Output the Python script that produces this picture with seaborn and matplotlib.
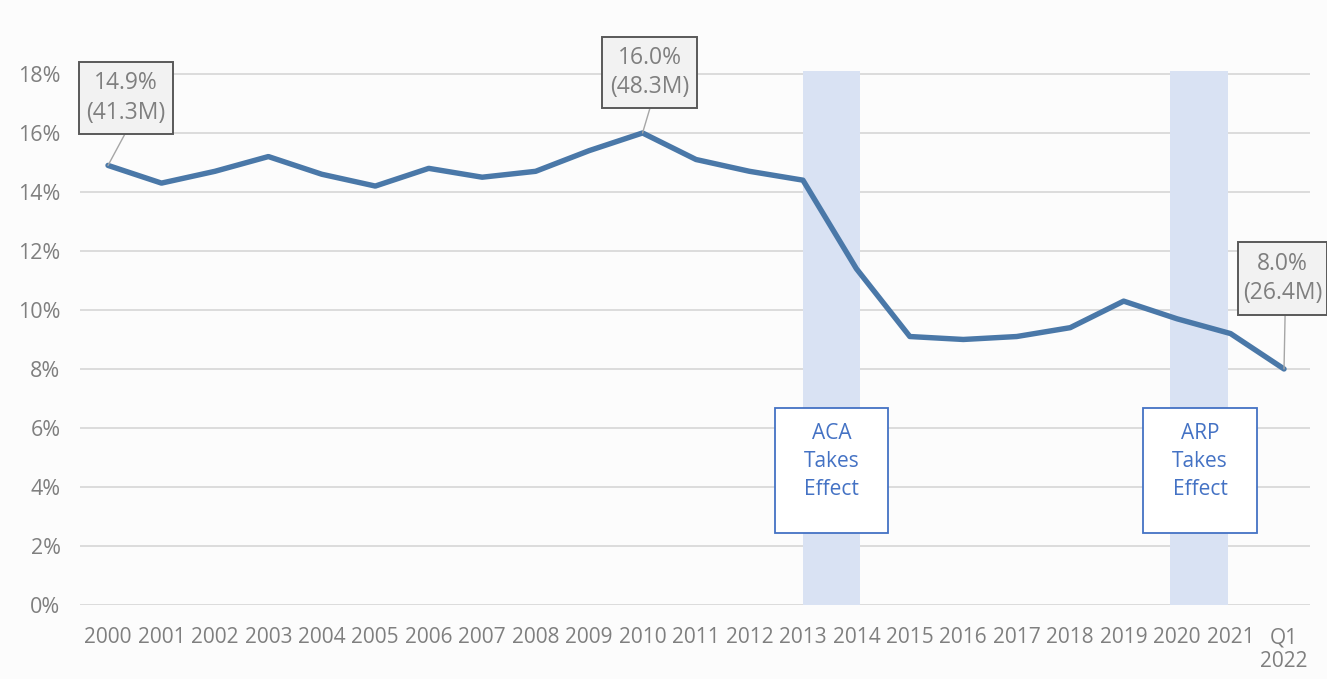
import matplotlib
matplotlib.use("Agg")
import matplotlib.pyplot as plt
from matplotlib.patches import Rectangle
import seaborn as sns
import pandas as pd

years = ["2000", "2001", "2002", "2003", "2004", "2005", "2006", "2007", "2008",
         "2009", "2010", "2011", "2012", "2013", "2014", "2015", "2016", "2017",
         "2018", "2019", "2020", "2021", "Q1\n2022"]
uninsured_rate = [14.9, 14.3, 14.7, 15.2, 14.6, 14.2, 14.8, 14.5, 14.7,
                  15.4, 16.0, 15.1, 14.7, 14.4, 11.4, 9.1, 9.0, 9.1,
                  9.4, 10.3, 9.7, 9.2, 8.0]
callouts = [(0, "14.9%\n(41.3M)"), (10, "16.0%\n(48.3M)"), (22, "8.0%\n(26.4M)")]
events = ["ACA\nTakes\nEffect", "ARP\nTakes\nEffect"]
y_ticks = [0, 2, 4, 6, 8, 10, 12, 14, 16, 18]

df = pd.DataFrame({"idx": range(len(years)), "rate": uninsured_rate})

sns.set_theme(style="white")
plt.rcParams["font.family"] = ["Open Sans", "DejaVu Sans"]

fig = plt.figure(figsize=(13.27, 6.79), dpi=100, facecolor="#fcfcfc")
ax = fig.add_axes([80 / 1327, 1 - 605 / 679, 1230 / 1327, 534 / 679])
ax.set_facecolor("#fcfcfc")

ax.set_xlim(-0.524, 22.486)
ax.set_ylim(0, 18.1)

# shaded event bands
ax.axvspan(13.0, 14.07, color="#d9e2f3", zorder=1, lw=0)
ax.axvspan(19.87, 20.95, color="#d9e2f3", zorder=1, lw=0)

for t in y_ticks:
    ax.axhline(t, color="#d9d9d9", lw=1.3, zorder=0.5)

sns.lineplot(data=df, x="idx", y="rate", ax=ax, color="#4a78a8", lw=3.9,
             zorder=3, solid_joinstyle="round", solid_capstyle="round")

ax.set_xticks(range(len(years)))
ax.set_xticklabels(years, fontsize=15, color="#7f7f7f", linespacing=1.2)
ax.set_yticks(y_ticks)
ax.set_yticklabels([f"{t}%" for t in y_ticks], fontsize=15.5, color="#7f7f7f")
ax.tick_params(axis="x", length=0, pad=16)
ax.tick_params(axis="y", length=0, pad=14)
ax.set_xlabel("")
ax.set_ylabel("")
for s in ax.spines.values():
    s.set_visible(False)

# callout boxes: (x0, x1, y0, y1) and connector start
callout_boxes = {0: (-0.543, 1.216, 15.97, 18.41, 0.318),
                 10: (9.24, 11.02, 16.85, 19.25, 10.14),
                 22: (21.14, 22.81, 9.83, 12.31, 22.02)}
for i, txt in callouts:
    x0, x1, y0, y1, cx = callout_boxes[i]
    ax.plot([cx, i], [y0, uninsured_rate[i]], color="#a6a6a6", lw=1,
            zorder=4, clip_on=False)
    ax.add_patch(Rectangle((x0, y0), x1 - x0, y1 - y0, fc="#f2f2f2",
                           ec="#595959", lw=1.4, zorder=5, clip_on=False))
    ax.text((x0 + x1) / 2, (y0 + y1) / 2, txt, ha="center", va="center",
            fontsize=16.5, color="#7f7f7f", linespacing=1.3, zorder=6,
            clip_on=False)

# event boxes
boxes = [(12.48, 14.59), (19.36, 21.5)]
for (x0, x1), txt in zip(boxes, events):
    ax.add_patch(Rectangle((x0, 2.44), x1 - x0, 4.24, fc="white",
                           ec="#4472c4", lw=1.3, zorder=4))
    ax.text((x0 + x1) / 2, 6.17, txt, ha="center", va="top", fontsize=15,
            color="#4472c4", linespacing=1.45, zorder=5)

fig.savefig("out.png", dpi=100, facecolor=fig.get_facecolor())
